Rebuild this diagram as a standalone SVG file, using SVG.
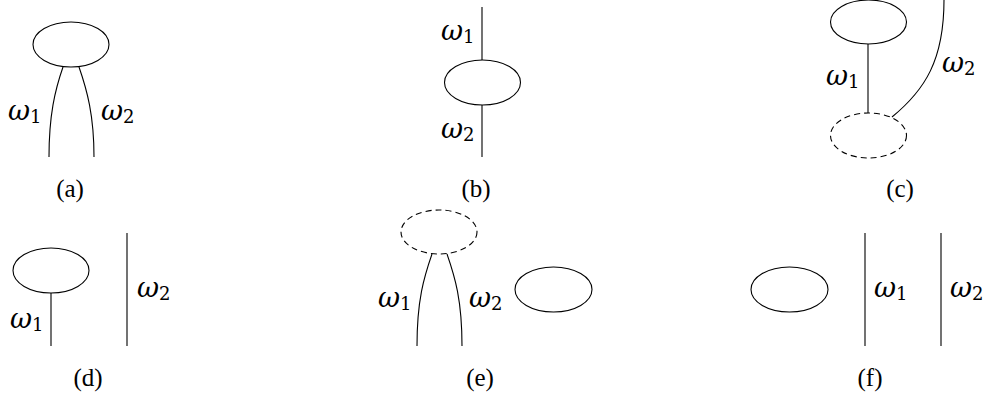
<svg xmlns="http://www.w3.org/2000/svg" width="984" height="400" viewBox="0 0 984 400">
<style>
.n{fill:none;stroke:#000;stroke-width:1.1}
.d{fill:none;stroke:#000;stroke-width:1.1;stroke-dasharray:6 4}
.e{fill:none;stroke:#000;stroke-width:1.1}
.w{font-family:"DejaVu Serif",serif;font-style:italic;font-size:27px;fill:#000}
.s{font-family:"DejaVu Serif",serif;font-style:normal;font-size:18px}
.c{font-family:"Liberation Serif",serif;font-size:25px;fill:#000;text-anchor:middle}
</style>
<rect width="984" height="400" fill="#fff"/>
<g id="nodes">
<g id="a-node"><ellipse class="n" cx="71" cy="44.5" rx="38" ry="22.5"/></g>
<g id="b-node"><ellipse class="n" cx="482.5" cy="82.5" rx="38" ry="22.5"/></g>
<g id="c-node"><ellipse class="n" cx="868.5" cy="22" rx="38" ry="22"/></g>
<g id="c-dashed"><ellipse class="d" cx="868.5" cy="135.5" rx="38" ry="22.5"/></g>
<g id="d-node"><ellipse class="n" cx="51" cy="270.5" rx="38" ry="22.5"/></g>
<g id="e-dashed"><ellipse class="d" cx="439" cy="232" rx="38" ry="22"/></g>
<g id="e-node"><ellipse class="n" cx="553.5" cy="289.5" rx="38.5" ry="22.5"/></g>
<g id="f-node"><ellipse class="n" cx="789.5" cy="289.5" rx="38.5" ry="22.5"/></g>
</g>
<g id="connectors">
<path class="e" d="M63,67 C55,90 49,115 49,157"/>
<path class="e" d="M79,67 C87,90 94,115 94,157"/>
<path class="e" d="M482,7 V60 M482,105 V157"/>
<path class="e" d="M868,44 V113"/>
<path class="e" d="M944,0 C944,60 925,90 892,117"/>
<path class="e" d="M51,293 V346 M127,233 V346"/>
<path class="e" d="M432,254 C424,277 417,300 417,346"/>
<path class="e" d="M447,254 C455,277 462,300 462,346"/>
<path class="e" d="M865,233 V346 M941,233 V346"/>
</g>
<g id="labels">
<text class="w" x="8" y="120">ω<tspan class="s" dy="3">1</tspan></text>
<text class="w" x="101" y="120">ω<tspan class="s" dy="3">2</tspan></text>
<text class="w" x="441" y="40">ω<tspan class="s" dy="3">1</tspan></text>
<text class="w" x="441" y="138">ω<tspan class="s" dy="3">2</tspan></text>
<text class="w" x="826" y="85">ω<tspan class="s" dy="3">1</tspan></text>
<text class="w" x="942" y="72">ω<tspan class="s" dy="3">2</tspan></text>
<text class="w" x="10" y="328">ω<tspan class="s" dy="3">1</tspan></text>
<text class="w" x="137" y="297">ω<tspan class="s" dy="3">2</tspan></text>
<text class="w" x="378" y="307">ω<tspan class="s" dy="3">1</tspan></text>
<text class="w" x="469" y="307">ω<tspan class="s" dy="3">2</tspan></text>
<text class="w" x="874" y="297">ω<tspan class="s" dy="3">1</tspan></text>
<text class="w" x="950" y="297">ω<tspan class="s" dy="3">2</tspan></text>
<text class="c" x="70" y="197">(a)</text>
<text class="c" x="476" y="197">(b)</text>
<text class="c" x="900" y="197">(c)</text>
<text class="c" x="88" y="386">(d)</text>
<text class="c" x="480" y="386">(e)</text>
<text class="c" x="870" y="386">(f)</text>
</g>
</svg>
